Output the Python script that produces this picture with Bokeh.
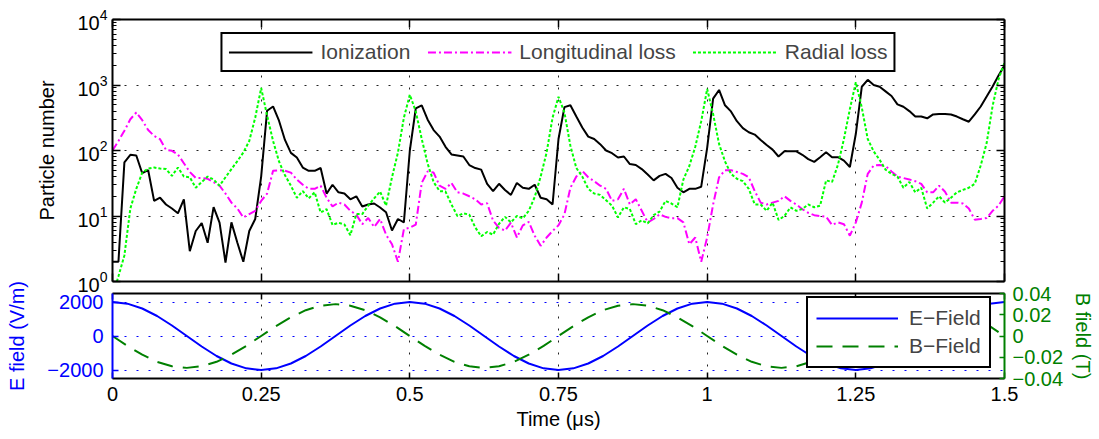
from bokeh.plotting import figure
from bokeh.layouts import column
from bokeh.models import (ColumnDataSource, Range1d, LinearAxis, LogAxis, FixedTicker,
                          Legend, LegendItem)
from bokeh.embed import file_html
from bokeh.resources import INLINE

FONT = "Liberation Sans"

# ---------------- data ----------------
time_us = [round(i * 0.01, 2) for i in range(151)]

ionization = [
    2, 2, 66, 86, 84, 45, 50, 17, 19, 15,
    13, 11, 18, 2.9, 5.9, 7.8, 3.9, 13.7, 7.9, 1.95,
    8, 3.9, 2, 5.9, 9, 40, 405, 470, 285, 145,
    92, 78, 55, 49, 49, 54, 22, 30, 23, 22,
    18, 20, 14, 15, 15.5, 13.5, 11.4, 6, 9, 8,
    100, 440, 490, 295, 205, 163, 114, 87, 84, 81,
    60, 54, 51, 31, 24, 31, 25, 21, 32, 27,
    26, 30, 19, 18, 15, 150, 460, 490, 330, 225,
    163, 150, 125, 100, 91, 78, 81, 62, 60, 52,
    43, 35, 41, 44, 38, 27, 23, 26, 26, 28,
    110, 620, 840, 490, 395, 280, 220, 190, 175, 145,
    121, 103, 81, 97, 97, 97, 86, 74, 67, 79,
    94, 79, 79, 70, 56, 180, 940, 1200, 1000, 940,
    800, 680, 505, 465, 400, 330, 330, 310, 356, 360,
    360, 355, 330, 300, 275, 356, 470, 670, 950, 1400,
    2000,
]

longitudinal_loss = [
    100, 140, 200, 300, 380, 290, 205, 167, 149, 102,
    99, 87, 64, 47, 38, 38, 37, 33, 29, 22,
    16, 13, 9.5, 10.7, 12, 17, 22, 49, 50, 49,
    46, 36, 30, 26, 26, 29, 19, 14, 16, 15,
    12, 10.5, 7.5, 9.3, 6.8, 9, 5.2, 3.7, 2.0, 6.3,
    6.6, 7.4, 32, 48, 46, 29, 26, 32, 23, 22,
    20, 18, 15, 15.6, 8.5, 6.6, 6, 7.9, 4.7, 7.2,
    8.1, 5, 3.5, 4.7, 5.9, 7.2, 10.6, 27, 40, 49,
    39, 34, 29, 26, 17, 18, 26, 15, 18, 12,
    8, 9, 10.6, 9.7, 9.2, 9.3, 8, 3.7, 4.7, 2.0,
    4.7, 15, 39, 50, 50, 47, 44, 39, 24, 16,
    15, 16, 17, 20, 17, 15, 12.7, 11.2, 10.3, 10,
    9.8, 7.3, 8, 7.5, 5, 8, 16, 44, 59, 60,
    58, 48, 40, 38, 36, 34, 31, 23, 23, 29,
    23.5, 16, 16, 15.5, 13, 8.8, 9, 9.3, 12, 14.4,
    20,
]

radial_loss = [
    0.6, 1.2, 2.5, 13, 26, 46, 53, 55, 53, 52,
    41, 55, 40, 39, 27, 33, 40, 36, 29, 39,
    52, 69, 93, 140, 317, 900, 340, 140, 68, 42,
    29, 19, 24, 18.6, 23, 11.3, 12.7, 7.3, 7.9, 7.4,
    5.1, 10.7, 10.7, 14.4, 18.6, 23.6, 14.4, 39, 93, 317,
    710, 395, 150, 63, 33, 24, 23.6, 15, 10, 11,
    10.5, 6.7, 4.9, 5.7, 5.2, 7.6, 9.7, 8, 10, 9.2,
    12, 19.5, 40, 93, 317, 660, 380, 118, 54, 40,
    26, 22, 21, 17.4, 14.4, 9.5, 13.6, 12.8, 7.5, 8.6,
    7.7, 10.3, 11.7, 17, 15.5, 13.6, 36, 58, 114, 280,
    870, 360, 126, 68, 44, 37, 34, 26, 15, 15,
    12, 16, 8.7, 10, 13.5, 12, 12.8, 15, 13.6, 14.4,
    35, 33, 61, 150, 430, 1100, 455, 150, 97, 72,
    51, 44, 40, 27, 33, 23, 27, 13, 16, 20,
    16, 19, 23, 25, 27, 31, 59, 130, 480, 1230,
    2200,
]

field_time_us = [round(i * 0.025, 3) for i in range(61)]

e_field = [
    2000, 1902, 1618, 1176, 618, 0, -618, -1176, -1618, -1902,
    -2000, -1902, -1618, -1176, -618, 0, 618, 1176, 1618, 1902,
    2000, 1902, 1618, 1176, 618, 0, -618, -1176, -1618, -1902,
    -2000, -1902, -1618, -1176, -618, 0, 618, 1176, 1618, 1902,
    2000, 1902, 1618, 1176, 618, 0, -618, -1176, -1618, -1902,
    -2000, -1902, -1618, -1176, -618, 0, 618, 1176, 1618, 1902,
    2000,
]

b_field = [
    0, -0.0093, -0.0176, -0.0243, -0.0285, -0.03, -0.0285, -0.0243, -0.0176, -0.0093,
    0, 0.0093, 0.0176, 0.0243, 0.0285, 0.03, 0.0285, 0.0243, 0.0176, 0.0093,
    0, -0.0093, -0.0176, -0.0243, -0.0285, -0.03, -0.0285, -0.0243, -0.0176, -0.0093,
    0, 0.0093, 0.0176, 0.0243, 0.0285, 0.03, 0.0285, 0.0243, 0.0176, 0.0093,
    0, -0.0093, -0.0176, -0.0243, -0.0285, -0.03, -0.0285, -0.0243, -0.0176, -0.0093,
    0, 0.0093, 0.0176, 0.0243, 0.0285, 0.03, 0.0285, 0.0243, 0.0176, 0.0093,
    0,
]

x_ticks = [0, 0.25, 0.5, 0.75, 1, 1.25, 1.5]
x_tick_labels = ["0", "0.25", "0.5", "0.75", "1", "1.25", "1.5"]
log_ticks = [1, 10, 100, 1000, 10000]
e_ticks = [-2000, 0, 2000]
e_tick_labels = ["\u22122000", "0", "2000"]
b_ticks = [-0.04, -0.02, 0, 0.02, 0.04]
b_tick_labels = ["\u22120.04", "\u22120.02", "0", "0.02", "0.04"]

BLUE = "#0000ff"
DGREEN = "#008000"

log_minor = [m * d for d in (1, 10, 100, 1000) for m in range(2, 10)]


def style_axis(ax, color="black", labels=True, tick_in=8, minor_in=0, size="20px"):
    ax.axis_line_color = color
    ax.axis_line_width = 2
    ax.major_tick_line_color = color
    ax.major_tick_line_width = 1.5
    ax.major_tick_in = tick_in
    ax.major_tick_out = 0
    if minor_in:
        ax.minor_tick_line_color = color
        ax.minor_tick_line_width = 1
        ax.minor_tick_in = minor_in
        ax.minor_tick_out = 0
    else:
        ax.minor_tick_line_color = None
    ax.major_label_text_font = FONT
    ax.major_label_text_color = color
    ax.axis_label_text_font = FONT
    ax.axis_label_text_font_style = "normal"
    ax.axis_label_text_font_size = "20px"
    ax.axis_label_text_color = color
    if labels:
        ax.major_label_text_font_size = size
    else:
        ax.major_label_text_font_size = "1px"
        ax.major_label_text_alpha = 0
        ax.major_label_standoff = 0


# ---------------- top panel ----------------
src = ColumnDataSource(dict(t=time_us, ion=ionization, lon=longitudinal_loss, rad=radial_loss))

p1 = figure(width=1099, height=299, x_range=Range1d(0, 1.5), y_range=Range1d(1, 1e4),
            y_axis_type="log", output_backend="svg", toolbar_location=None,
            min_border_left=112, min_border_right=95, min_border_top=19, min_border_bottom=18,
            outline_line_color=None, background_fill_color="white", border_fill_color="white")

r_ion = p1.line("t", "ion", source=src, line_color="black", line_width=2)
r_lon = p1.line("t", "lon", source=src, line_color="#ff00ff", line_width=2, line_dash="8 3 2 3")
r_rad = p1.line("t", "rad", source=src, line_color="#00ff00", line_width=2, line_dash="3 2")

ly = p1.yaxis[0]
ly.ticker = FixedTicker(ticks=log_ticks, minor_ticks=log_minor)
ly.axis_label = "Particle number"
style_axis(ly, tick_in=8, minor_in=4)
ly.major_label_standoff = 5
ly.axis_label_standoff = 16

bx = p1.xaxis[0]
bx.ticker = FixedTicker(ticks=x_ticks)
style_axis(bx, labels=False)

ry = LogAxis(ticker=FixedTicker(ticks=log_ticks, minor_ticks=log_minor))
style_axis(ry, labels=False, tick_in=8, minor_in=4)
p1.add_layout(ry, "right")

tx = LinearAxis(ticker=FixedTicker(ticks=x_ticks))
style_axis(tx, labels=False)
p1.add_layout(tx, "above")

for g in p1.grid:
    g.grid_line_color = "#222222"
    g.grid_line_dash = "2 10"
    g.grid_line_width = 1
p1.xgrid.ticker = FixedTicker(ticks=x_ticks)
p1.ygrid.ticker = FixedTicker(ticks=log_ticks)
p1.ygrid.minor_grid_line_color = None

leg1 = Legend(items=[LegendItem(label="Ionization", renderers=[r_ion]),
                     LegendItem(label="Longitudinal loss", renderers=[r_lon]),
                     LegendItem(label="Radial loss", renderers=[r_rad])],
              orientation="horizontal", location="top_center", margin=13,
              padding=6, spacing=17, glyph_width=84, label_standoff=8,
              label_text_font=FONT, label_text_font_size="21px",
              border_line_color="black", border_line_width=2, border_line_alpha=1,
              background_fill_color="white", background_fill_alpha=1)
p1.add_layout(leg1)

# ---------------- bottom panel ----------------
fsrc = ColumnDataSource(dict(t=field_time_us, e=e_field, b=b_field))

p2 = figure(width=1099, height=164, x_range=Range1d(0, 1.5), y_range=Range1d(-2500, 2500),
            output_backend="svg", toolbar_location=None,
            min_border_left=112, min_border_right=95, min_border_top=18, min_border_bottom=61,
            outline_line_color=None, background_fill_color="white", border_fill_color=None,
            margin=(-24, 0, 0, 0))
p2.extra_y_ranges = {"b": Range1d(-0.04, 0.04)}

r_e = p2.line("t", "e", source=fsrc, line_color=BLUE, line_width=2)
r_b = p2.line("t", "b", source=fsrc, y_range_name="b", line_color=DGREEN, line_width=2,
              line_dash="16 10")

le = p2.yaxis[0]
le.ticker = FixedTicker(ticks=e_ticks)
le.major_label_overrides = dict(zip(e_ticks, e_tick_labels))
le.axis_label = "E field (V/m)"
style_axis(le, color=BLUE, tick_in=6)
le.major_label_standoff = 9
le.axis_label_standoff = 16

rb = LinearAxis(y_range_name="b", ticker=FixedTicker(ticks=b_ticks),
                major_label_overrides=dict(zip(b_ticks, b_tick_labels)),
                axis_label="B field (T)")
style_axis(rb, color=DGREEN, tick_in=5)
rb.major_label_standoff = 8
rb.axis_label_standoff = 6
p2.add_layout(rb, "right")

bx2 = p2.xaxis[0]
bx2.ticker = FixedTicker(ticks=x_ticks)
bx2.major_label_overrides = dict(zip(x_ticks, x_tick_labels))
bx2.axis_label = "Time (\u03bcs)"
style_axis(bx2, tick_in=6)
bx2.major_label_standoff = 8
bx2.axis_label_standoff = 4

tx2 = LinearAxis(ticker=FixedTicker(ticks=x_ticks))
style_axis(tx2, labels=False, tick_in=6)
p2.add_layout(tx2, "above")

p2.xgrid.ticker = FixedTicker(ticks=x_ticks)
p2.xgrid.grid_line_color = "#222222"
p2.xgrid.grid_line_dash = "2 10"
p2.ygrid.ticker = FixedTicker(ticks=e_ticks)
p2.ygrid.grid_line_color = BLUE
p2.ygrid.grid_line_dash = "2 10"

leg2 = Legend(items=[LegendItem(label="E\u2212Field", renderers=[r_e]),
                     LegendItem(label="B\u2212Field", renderers=[r_b])],
              location=(694, 10), padding=8, spacing=4, glyph_width=82, label_standoff=11,
              label_text_font=FONT, label_text_font_size="21px",
              border_line_color="black", border_line_width=2, border_line_alpha=1,
              background_fill_color="white", background_fill_alpha=1)
p2.add_layout(leg2)

layout = column(p1, p2, spacing=0)
open("out.html", "w").write(file_html(layout, INLINE))
